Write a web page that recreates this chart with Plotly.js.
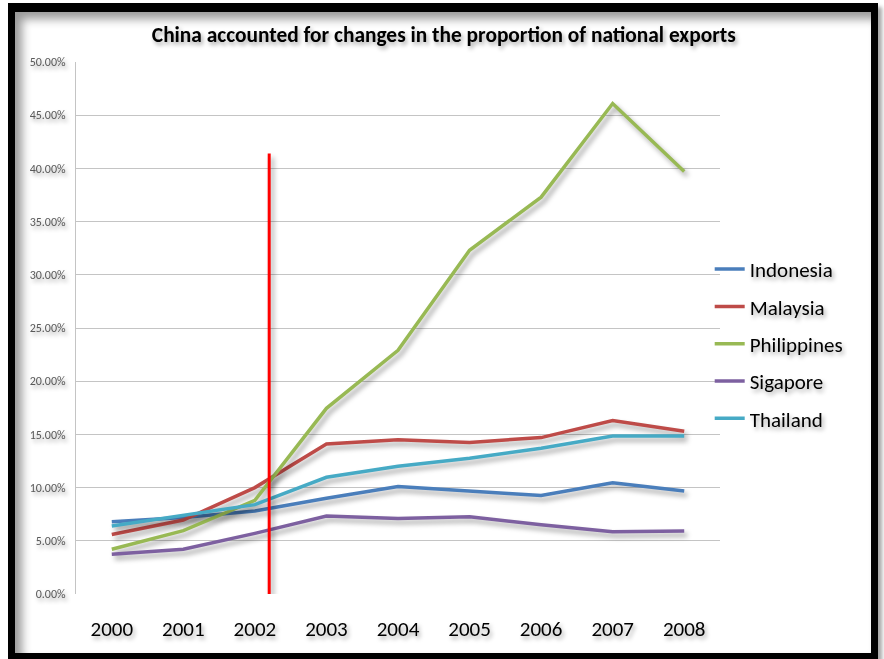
<!DOCTYPE html>
<html>
<head>
<meta charset="utf-8">
<script src="https://cdn.plot.ly/plotly-3.0.1.min.js"></script>
<style>
  html, body { margin: 0; padding: 0; background: #ffffff; }
  #wrap { position: relative; width: 884px; height: 659px; overflow: hidden; background: #fff; }
  #chart { position: absolute; left: 0; top: 0; width: 884px; height: 659px; }
  #frame {
    position: absolute; left: 8px; top: 3px; width: 870px; height: 656px;
    box-sizing: border-box; border: 7px solid #000; border-top-width: 9px; border-bottom-width: 6px;
    box-shadow: inset 7px 7px 10px rgba(0,0,0,0.4), 4px 4px 4px rgba(0,0,0,0.35);
    pointer-events: none;
  }
  #chart .scatterlayer .js-line { filter: drop-shadow(3px 4px 2.5px rgba(0,0,0,0.35)); }
  #chart .gtitle, #chart .xtick text, #chart .ytick text, #chart .legendtext {
    filter: drop-shadow(2px 3px 2px rgba(0,0,0,0.35));
  }
</style>
</head>
<body>
<div id="wrap">
  <div id="chart"></div>
  <div id="frame"></div>
</div>
<script>
const years = [2000, 2001, 2002, 2003, 2004, 2005, 2006, 2007, 2008];
const indonesia   = [0.068, 0.072, 0.078, 0.090, 0.101, 0.097, 0.0925, 0.1045, 0.0968];
const malaysia    = [0.056, 0.0695, 0.100, 0.141, 0.145, 0.1425, 0.147, 0.163, 0.153];
const philippines = [0.042, 0.0595, 0.088, 0.1745, 0.229, 0.323, 0.373, 0.461, 0.397];
const sigapore    = [0.0373, 0.042, 0.057, 0.0733, 0.071, 0.0727, 0.065, 0.0586, 0.0592];
const thailand    = [0.064, 0.074, 0.084, 0.1097, 0.120, 0.1275, 0.137, 0.1485, 0.1485];
const seriesNames = ['Indonesia', 'Malaysia', 'Philippines', 'Sigapore', 'Thailand'];
const markerX = [2002.2, 2002.2];
const markerY = [0, 0.414];
const yTicks = [0, 0.05, 0.10, 0.15, 0.20, 0.25, 0.30, 0.35, 0.40, 0.45, 0.50];

const colors = ['#4a7ebb', '#be4b48', '#98b954', '#7d60a0', '#46aac5'];
const values = [indonesia, malaysia, philippines, sigapore, thailand];
const fontFam = "Carlito, Calibri, 'Liberation Sans Narrow', 'Liberation Sans', sans-serif";

const traces = values.map((v, i) => ({
  type: 'scatter', mode: 'lines', x: years, y: v, name: seriesNames[i],
  legendgroup: 'g' + i,
  line: { color: colors[i], width: 3.5 },
  hoverinfo: 'x+y+name'
}));
traces.push({
  type: 'scatter', mode: 'lines', x: markerX, y: markerY, showlegend: false,
  line: { color: '#ff0000', width: 3 }, hoverinfo: 'skip'
});

const layout = {
  width: 884, height: 659,
  margin: { l: 76, r: 164, t: 62, b: 65 },
  paper_bgcolor: 'rgba(0,0,0,0)', plot_bgcolor: 'rgba(0,0,0,0)',
  title: {
    text: 'China accounted for changes in the proportion of national exports',
    font: { family: fontFam, size: 21.4, color: '#000', weight: 'bold' },
    x: 0.502, xanchor: 'center', y: 0.948, yanchor: 'middle'
  },
  xaxis: {
    range: [1999.5, 2008.5], tickvals: years, ticktext: years.map(String),
    showgrid: false, zeroline: false, showline: false, ticks: '',
    tickfont: { family: fontFam, size: 21, color: '#000' }, ticklabelstandoff: 20
  },
  yaxis: {
    range: [0, 0.5], tickvals: yTicks, tickformat: '.2%',
    showgrid: true, gridcolor: '#c4c4c4', gridwidth: 1,
    zeroline: false, showline: true, linecolor: '#c4c4c4', linewidth: 1,
    ticks: '', tickfont: { family: fontFam, size: 12, color: '#595959' }, ticklabelstandoff: 7
  },
  legend: {
    x: 0.984, xanchor: 'left', y: 0.47, yanchor: 'middle',
    font: { family: fontFam, size: 21, color: '#000' },
    tracegroupgap: 7, itemwidth: 30, bgcolor: 'rgba(0,0,0,0)'
  },
  showlegend: true
};

Plotly.newPlot('chart', traces, layout, { displayModeBar: false });
</script>
</body>
</html>
